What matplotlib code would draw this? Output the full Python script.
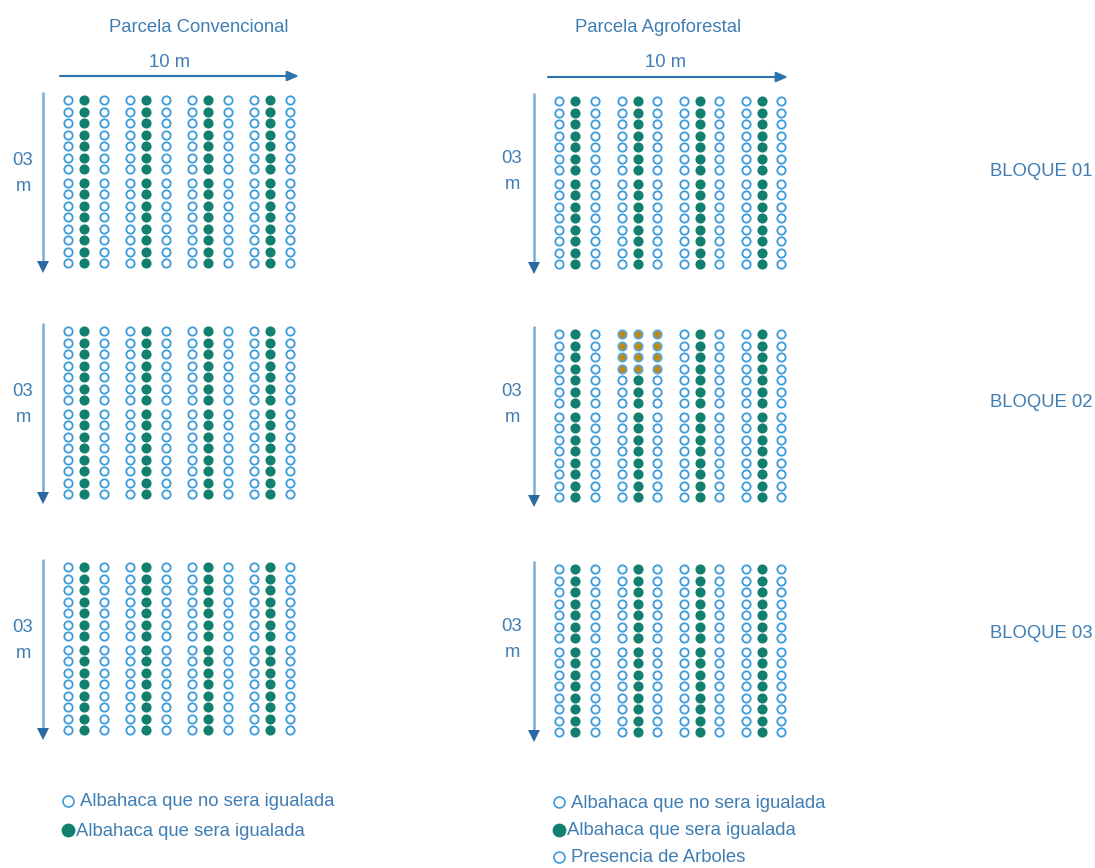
import matplotlib
matplotlib.use("Agg")
import matplotlib.pyplot as plt
import numpy as np

# ---------------- data ----------------
parcels = ["Parcela Convencional", "Parcela Agroforestal"]
width_label = "10 m"
height_label = ["03", "m"]
blocks = ["BLOQUE 01", "BLOQUE 02", "BLOQUE 03"]
n_rows = 15
n_groups = 4
# column type inside each group of 3: 0 = not equalized (open), 1 = equalized (filled)
group_pattern = [0, 1, 0]
# trees: (parcel index, block index, group index, rows)
tree_cells = [(1, 1, 1, [0, 1, 2, 3])]
legend_conv = ["Albahaca que no sera igualada", "Albahaca que sera igualada"]
legend_agro = ["Albahaca que no sera igualada", "Albahaca que sera igualada",
               "Presencia de Arboles"]

# ---------------- style / layout ----------------
W, H = 1095, 868
TXT = "#3f7db3"
OPEN_EDGE = "#3b9bdb"
TEAL = "#12806f"
ORANGE = "#c4870c"
ARROW_H = "#2e73ab"
ARROW_V = "#7eaad3"
ARROW_VHEAD = "#2b6aa1"

parcel_x0 = [68.3, 559.3]
group_dx = [61.9, 62.2]
col_off = [0, 16, 35.5]
block_y0 = [[100, 331, 567], [101, 334, 569]]
row_dy = 11.5
mid_gap = 2.3
FONT = "Liberation Sans"
FS = 13.3
DY = 1.8  # small baseline correction for centred text

fig = plt.figure(figsize=(W / 100, H / 100), dpi=100)
ax = fig.add_axes([0, 0, 1, 1])
ax.set_xlim(0, W)
ax.set_ylim(H, 0)
ax.axis("off")

ms = 36
lw = 1.3
for p in range(2):
    for b in range(3):
        xs_o, ys_o, xs_f, ys_f, xs_t, ys_t = [], [], [], [], [], []
        trees = {}
        for (tp, tb, tg, trows) in tree_cells:
            if tp == p and tb == b:
                for r in trows:
                    trees[(tg, r)] = True
        for g in range(n_groups):
            for c, kind in enumerate(group_pattern):
                x = parcel_x0[p] + g * group_dx[p] + col_off[c]
                for r in range(n_rows):
                    y = block_y0[p][b] + r * row_dy + (mid_gap if r >= 7 else 0)
                    if (g, r) in trees:
                        xs_t.append(x); ys_t.append(y)
                    elif kind == 1:
                        xs_f.append(x); ys_f.append(y)
                    else:
                        xs_o.append(x); ys_o.append(y)
        ax.scatter(xs_o, ys_o, s=ms, facecolor="white", edgecolor=OPEN_EDGE, linewidth=lw, zorder=3)
        ax.scatter(xs_f, ys_f, s=ms, facecolor=TEAL, edgecolor=TEAL, linewidth=lw, zorder=3)
        ax.scatter(xs_t, ys_t, s=ms, facecolor=ORANGE, edgecolor="#5aa7d8", linewidth=lw, zorder=3)

        # vertical arrow
        vx = [43, 534][p]
        ytop = block_y0[p][b] - 8
        ybot = block_y0[p][b] + 171
        ax.plot([vx, vx], [ytop, ybot - 8], color=ARROW_V, lw=1.8, solid_capstyle="butt", zorder=2)
        ax.plot([vx], [ybot - 4], marker="v", color=ARROW_VHEAD, ms=8, mew=0, zorder=4)
        tx = [23, 512][p]
        ty = block_y0[p][b] + [59, 56][p] + DY
        ax.text(tx, ty, height_label[0], ha="center", va="center", color=TXT, fontsize=FS, family=FONT)
        ax.text(tx, ty + 26, height_label[1], ha="center", va="center", color=TXT, fontsize=FS, family=FONT)

    # title + horizontal arrow
    cx = [199, 658][p]
    ax.text(cx, 26 + DY, parcels[p], ha="center", va="center", color=TXT, fontsize=FS, family=FONT)
    ax.text([170, 666][p], 61 + DY, width_label, ha="center", va="center", color=TXT, fontsize=FS, family=FONT)
    x1, x2 = [(60, 299), (548, 788)][p]
    ay = [76, 77][p]
    ax.annotate("", xy=(x2, ay), xytext=(x1, ay),
                arrowprops=dict(arrowstyle="-|>,head_length=0.7,head_width=0.3",
                                color=ARROW_H, lw=1.5, shrinkA=0, shrinkB=0))

for b, lab in enumerate(blocks):
    ax.text(1041, [170, 401, 632][b] + DY, lab, ha="center", va="center", color=TXT, fontsize=FS, family=FONT)

# legends
def legend(items, x, y0, dy):
    for i, lab in enumerate(items):
        y = y0 + i * dy
        if "sera igualada" in lab and "no" not in lab:
            ax.scatter([x], [y], s=80, facecolor=TEAL, edgecolor=TEAL, zorder=3)
            ax.text(x + 8, y + 1, lab, ha="left", va="center", color=TXT, fontsize=FS, family=FONT)
        else:
            ax.scatter([x], [y], s=62, facecolor="white", edgecolor=OPEN_EDGE, linewidth=1.2, zorder=3)
            ax.text(x + 12, y + 1, lab, ha="left", va="center", color=TXT, fontsize=FS, family=FONT)

legend(legend_conv, 68, 801, 29)
legend(legend_agro, 559, 802, 27.5)

fig.savefig("out.png", dpi=100)
